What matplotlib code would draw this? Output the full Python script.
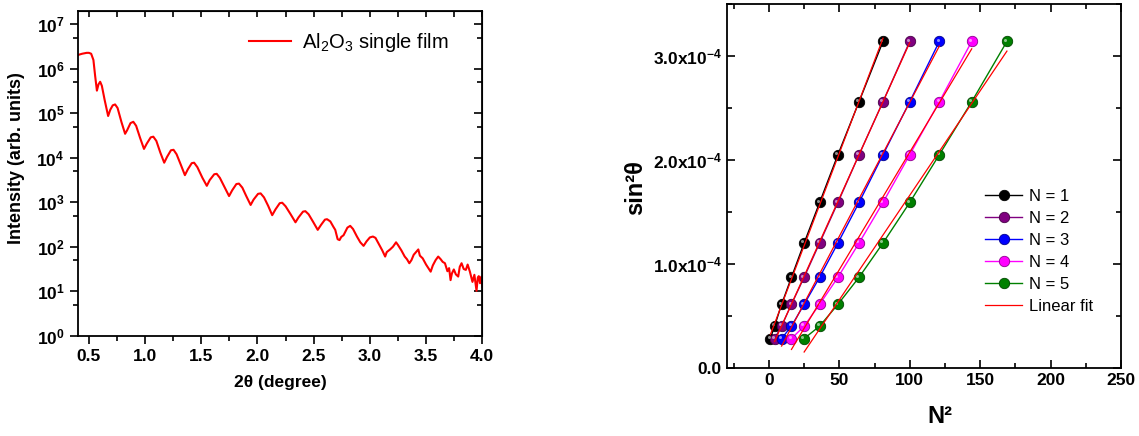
import numpy as np
import matplotlib
matplotlib.use('Agg')
import matplotlib.pyplot as plt
import matplotlib.transforms as mtransforms
from matplotlib.lines import Line2D
from matplotlib.colors import to_rgb
from matplotlib.ticker import MultipleLocator, FixedLocator, LogLocator, NullFormatter, FuncFormatter

plt.rcParams['font.family'] = ['Liberation Sans', 'DejaVu Sans']
plt.rcParams['mathtext.default'] = 'regular'

# ---- left panel: XRR curve, 2theta (deg) and log10(intensity)
two_theta = [0.40, 0.44, 0.48, 0.50, 0.52, 0.54, 0.555, 0.571, 0.585, 0.600, 0.615, 0.64,
             0.671, 0.69, 0.712, 0.733, 0.755, 0.79, 0.822, 0.84, 0.87, 0.895, 0.92, 0.955,
             0.99, 1.015, 1.05, 1.073, 1.10, 1.135, 1.17, 1.195, 1.23, 1.253, 1.28, 1.32,
             1.354, 1.38, 1.415, 1.436, 1.465, 1.51, 1.549, 1.575, 1.615, 1.637, 1.665, 1.705,
             1.747, 1.775, 1.812, 1.835, 1.865, 1.90, 1.939, 1.965, 2.005, 2.028, 2.058, 2.095,
             2.131, 2.16, 2.198, 2.22, 2.25, 2.295, 2.338, 2.365, 2.405, 2.426, 2.455, 2.495,
             2.536, 2.565, 2.60, 2.619, 2.648, 2.675, 2.692, 2.713, 2.73, 2.745, 2.766, 2.80,
             2.825, 2.85, 2.885, 2.915, 2.944, 2.97, 3.00, 3.027, 3.05, 3.08, 3.11, 3.136,
             3.15, 3.18, 3.205, 3.233, 3.25, 3.28, 3.31, 3.33, 3.351, 3.37, 3.39, 3.41,
             3.431, 3.445, 3.47, 3.50, 3.52, 3.541, 3.56, 3.585, 3.608, 3.63, 3.648, 3.668,
             3.69, 3.705, 3.718, 3.73, 3.747, 3.765, 3.786, 3.80, 3.816, 3.835, 3.854, 3.87,
             3.89, 3.913, 3.93, 3.949, 3.96, 3.969, 3.98, 3.993, 4.0]
log_intensity = [6.31, 6.34, 6.36, 6.36, 6.34, 6.20, 5.85, 5.51, 5.65, 5.71, 5.62, 5.30,
                 4.94, 5.08, 5.18, 5.20, 5.12, 4.80, 4.54, 4.62, 4.78, 4.81, 4.72, 4.45,
                 4.20, 4.32, 4.46, 4.475, 4.38, 4.12, 3.89, 4.02, 4.17, 4.18, 4.08, 3.83,
                 3.61, 3.74, 3.88, 3.89, 3.79, 3.55, 3.37, 3.50, 3.63, 3.64, 3.55, 3.35,
                 3.14, 3.27, 3.41, 3.42, 3.33, 3.14, 2.94, 3.06, 3.19, 3.20, 3.11, 2.92,
                 2.71, 2.84, 2.98, 2.99, 2.91, 2.73, 2.55, 2.66, 2.79, 2.80, 2.73, 2.56,
                 2.38, 2.49, 2.61, 2.62, 2.57, 2.45, 2.38, 2.17, 2.15, 2.22, 2.26, 2.43,
                 2.47, 2.40, 2.23, 2.10, 2.02, 2.12, 2.21, 2.23, 2.20, 2.06, 1.92, 1.78,
                 1.88, 1.94, 2.00, 2.10, 2.04, 1.92, 1.78, 1.72, 1.63, 1.70, 1.82, 1.88,
                 1.94, 1.80, 1.74, 1.60, 1.52, 1.44, 1.58, 1.70, 1.78, 1.72, 1.66, 1.63,
                 1.45, 1.52, 1.25, 1.40, 1.49, 1.38, 1.33, 1.55, 1.63, 1.50, 1.48, 1.60,
                 1.44, 1.21, 1.37, 1.01, 1.30, 1.34, 1.18, 1.33, 1.10]

# ---- right panel: sin^2(theta) of fringe maxima vs N^2
sin2_theta = [0.28e-4, 0.40e-4, 0.61e-4, 0.87e-4, 1.20e-4, 1.59e-4, 2.05e-4, 2.56e-4, 3.14e-4]
n1_sq = [1, 4, 9, 16, 25, 36, 49, 64, 81]
n2_sq = [4, 9, 16, 25, 36, 49, 64, 81, 100]
n3_sq = [9, 16, 25, 36, 49, 64, 81, 100, 121]
n4_sq = [16, 25, 36, 49, 64, 81, 100, 121, 144]
n5_sq = [25, 36, 49, 64, 81, 100, 121, 144, 169]
series_labels = ['N = 1', 'N = 2', 'N = 3', 'N = 4', 'N = 5']
series_colors = ['#000000', '#800080', '#0000ff', '#ff00ff', '#008000']

fig = plt.figure(figsize=(11.39, 4.36), dpi=100)

# left panel
ax1 = fig.add_axes([0.0682, 0.2300, 0.3552, 0.7448])
ax1.plot(two_theta, np.power(10.0, log_intensity), color='red', lw=1.5,
         label='Al$_2$O$_3$ single film')
ax1.set_yscale('log')
ax1.set_xlim(0.4, 4.0)
ax1.set_ylim(1, 2e7)
ax1.xaxis.set_major_locator(MultipleLocator(0.5))
ax1.xaxis.set_minor_locator(MultipleLocator(0.25))
ax1.xaxis.set_major_formatter(FuncFormatter(lambda v, p: f'{v:.1f}'))
ax1.yaxis.set_major_locator(LogLocator(base=10, numticks=20))
ax1.yaxis.set_minor_locator(LogLocator(base=10, subs=[5], numticks=20))
ax1.yaxis.set_minor_formatter(NullFormatter())
ax1.tick_params(which='major', direction='out', length=6, width=1.2)
ax1.tick_params(which='minor', direction='out', length=3.5, width=1.2)
for lab in ax1.get_xticklabels() + ax1.get_yticklabels():
    lab.set_fontsize(12.5)
    lab.set_fontweight('bold')
for sp in ax1.spines.values():
    sp.set_linewidth(1.3)

# inward ticks on top and right of left panel
top1 = ax1.secondary_xaxis('top')
top1.xaxis.set_major_locator(MultipleLocator(0.25))
top1.tick_params(direction='in', length=4, width=1.2, labeltop=False)
right1 = ax1.secondary_yaxis('right')
right1.set_yscale('log')
right1.yaxis.set_major_locator(LogLocator(base=10, numticks=20))
right1.yaxis.set_minor_locator(LogLocator(base=10, subs=[5], numticks=20))
right1.tick_params(which='major', direction='in', length=6, width=1.2, labelright=False)
right1.tick_params(which='minor', direction='in', length=3.5, width=1.2, labelright=False)
right1.yaxis.set_minor_formatter(NullFormatter())

ax1.legend(loc='upper right', bbox_to_anchor=(0.96, 0.995), frameon=False, fontsize=14.5,
           handlelength=2.1, handletextpad=0.5)
fig.text(0.2458, 0.1216, '2θ (degree)', ha='center', va='center', fontsize=12.5, fontweight='bold')
fig.text(0.0145, 0.6376, 'Intensity (arb. units)', ha='center', va='center', rotation=90,
         fontsize=13, fontweight='bold')

# right panel
ax2 = fig.add_axes([0.638, 0.1567, 0.3462, 0.8341])
highlight = mtransforms.offset_copy(ax2.transData, fig=fig, x=-1.2, y=1.2, units='points')
handles = []
for xs, lab, col in zip([n1_sq, n2_sq, n3_sq, n4_sq, n5_sq], series_labels, series_colors):
    rgb = np.array(to_rgb(col))
    dark = rgb * 0.55
    light = rgb + (1 - rgb) * 0.55
    h, = ax2.plot(xs, sin2_theta, '-o', color=col, lw=1.0, ms=7.5, mfc=col, mec=dark,
                  mew=0.6, zorder=3, label=lab)
    ax2.plot(xs, sin2_theta, 'o', ms=2.2, color=light, mec='none', transform=highlight, zorder=4)
    handles.append(h)
    # linear fit over the measured range
    coef = np.polyfit(xs, sin2_theta, 1)
    xf = np.array([xs[0], xs[-1]])
    ax2.plot(xf, np.polyval(coef, xf), color='red', lw=0.9, zorder=5)
handles.append(Line2D([], [], color='red', lw=0.9, label='Linear fit'))

ax2.set_xlim(-30, 250)
ax2.set_ylim(0, 3.5e-4)
ax2.xaxis.set_major_locator(MultipleLocator(50))
ax2.xaxis.set_minor_locator(MultipleLocator(25))
ax2.yaxis.set_major_locator(FixedLocator([0, 1e-4, 2e-4, 3e-4]))
ax2.yaxis.set_minor_locator(MultipleLocator(0.5e-4))
ax2.yaxis.set_major_formatter(FuncFormatter(
    lambda v, p: '0.0' if abs(v) < 1e-9 else f'{v * 1e4:.1f}x10$^{{-4}}$'))
ax2.tick_params(which='both', direction='in', top=True, right=True, width=1.2)
ax2.tick_params(which='major', length=6)
ax2.tick_params(which='minor', length=3.5)
for lab in ax2.get_xticklabels() + ax2.get_yticklabels():
    lab.set_fontsize(12.5)
    lab.set_fontweight('bold')
for sp in ax2.spines.values():
    sp.set_linewidth(1.3)

ax2.legend(handles=handles, loc='upper left', bbox_to_anchor=(0.635, 0.515), frameon=False,
           fontsize=12, handlelength=2.2, handletextpad=0.4, labelspacing=0.42,
           borderpad=0)
fig.text(0.5584, 0.5688, 'sin²θ', ha='center', va='center', rotation=90, fontsize=17,
         fontweight='bold')
fig.text(0.8253, 0.0436, 'N²', ha='center', va='center', fontsize=17, fontweight='bold')

fig.savefig('out.png', dpi=100)
